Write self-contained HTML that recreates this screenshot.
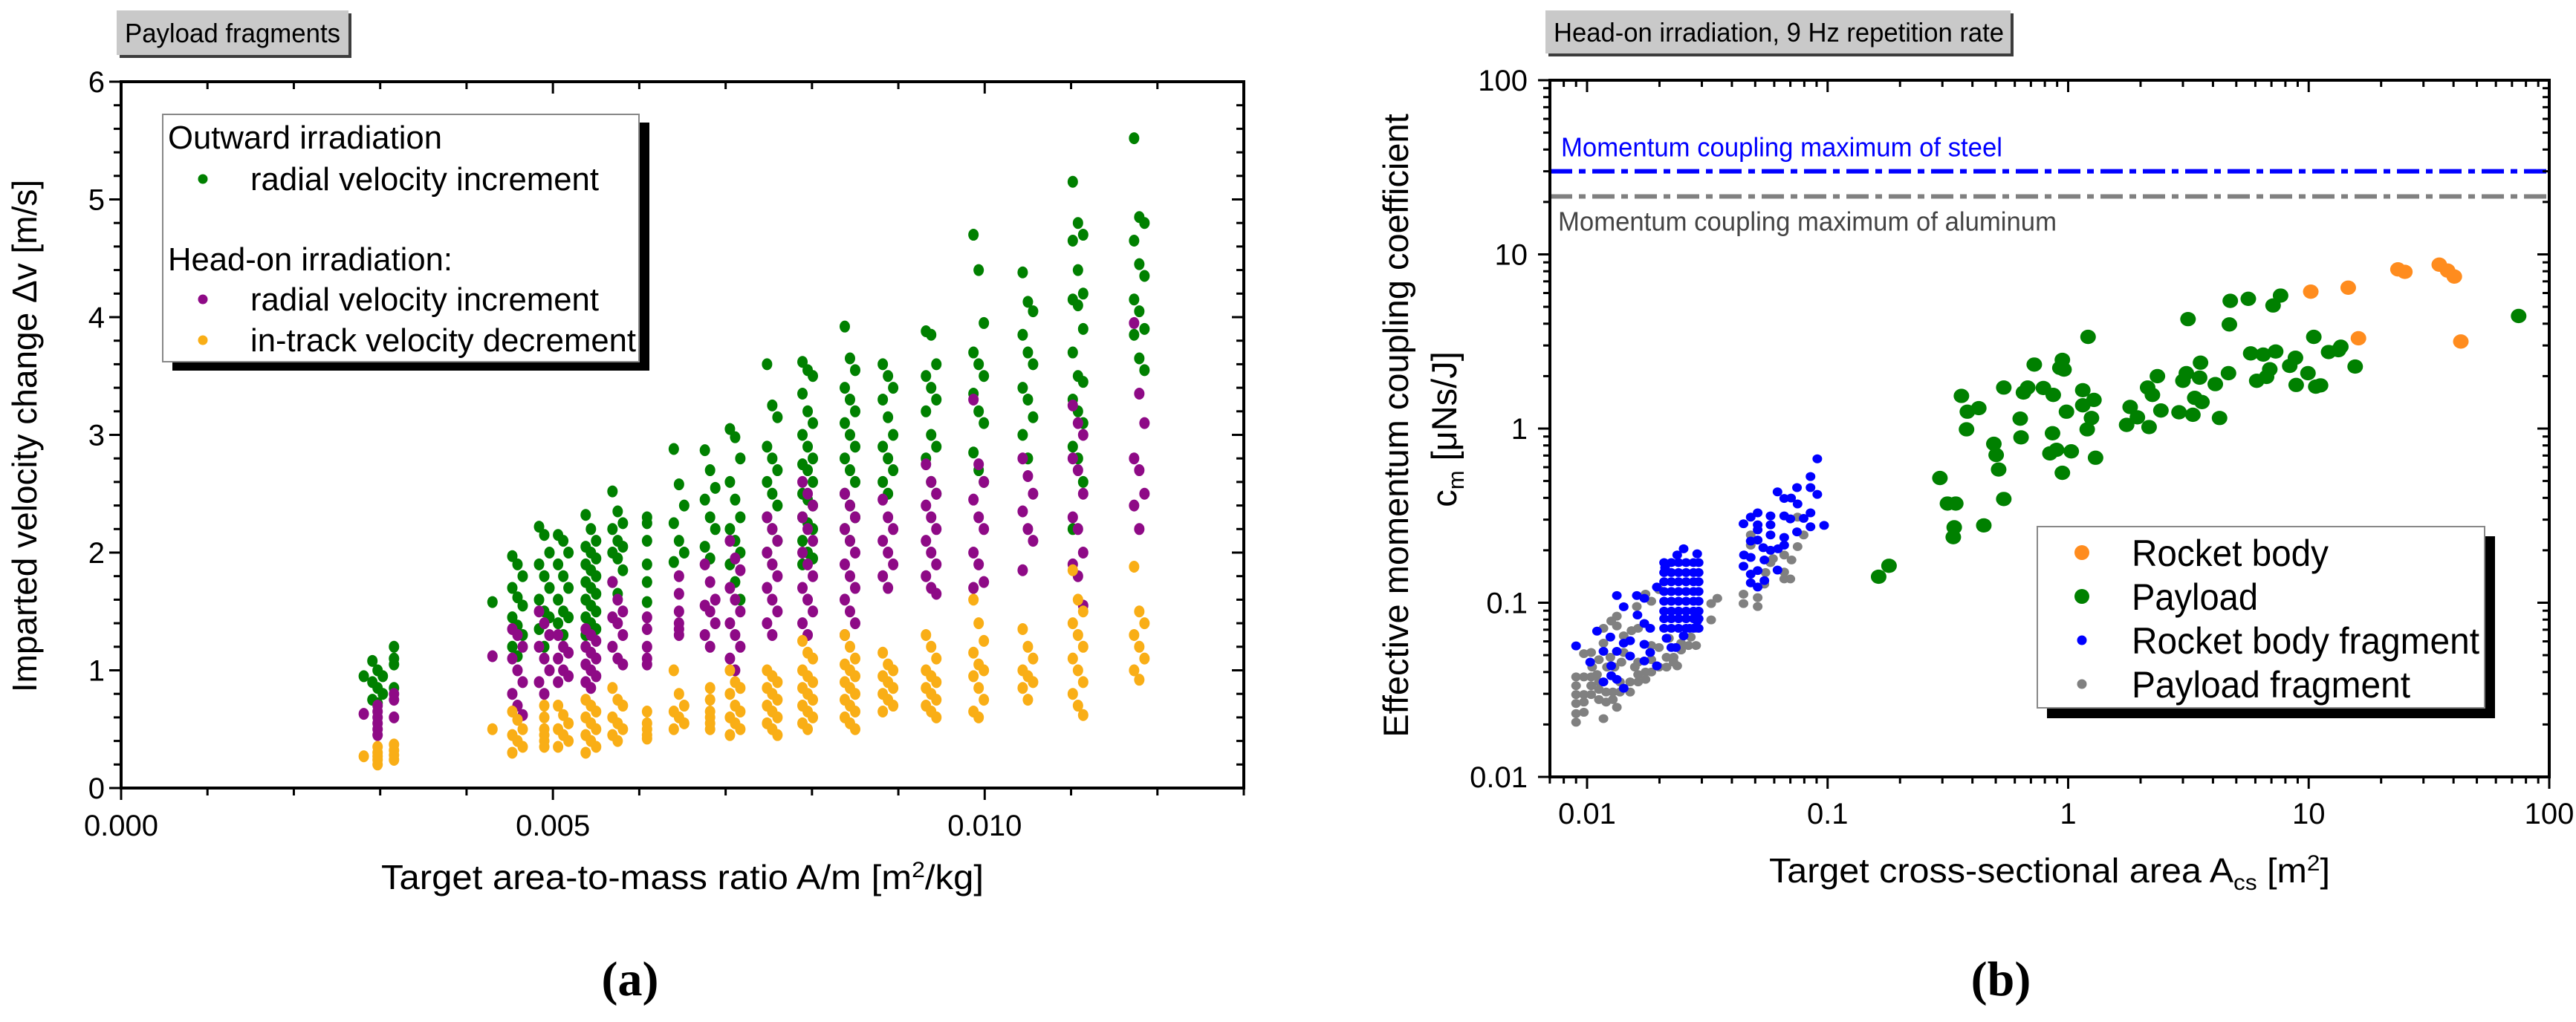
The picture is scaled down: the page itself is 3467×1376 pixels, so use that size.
<!DOCTYPE html>
<html><head><meta charset="utf-8"><style>
html,body{margin:0;padding:0;background:#fff;}
svg{display:block;font-family:"Liberation Sans",Arial,sans-serif;}
</style></head><body>
<svg id="fig" width="3467" height="1376" viewBox="0 0 3467 1376" xmlns="http://www.w3.org/2000/svg">
<rect x="0" y="0" width="3467" height="1376" fill="#fff"/>
<g id="chartA"></g>
<g id="chartB"></g>
</svg>
<script>
// ---------- Chart (a) data ----------
const amCols = [0.00281,0.00297,0.00316,0.00430,0.00459,0.00490,0.00512,0.00544,0.00575,0.00609,0.00646,0.00682,0.00711,0.00754,0.00795,0.00844,0.00888,0.00938,0.00993,0.01050,0.01108,0.01179];
const dvOutRadial = [
[0.95],[1.08,1.0,0.95,0.9,0.85,0.8,0.75,0.72],[1.2,1.1,1.05,0.85],[1.58],
[1.97,1.9,1.8,1.7,1.62,1.55,1.45,1.38,1.3,1.2,1.12],
[2.22,2.15,2.0,1.9,1.8,1.7,1.6,1.5,1.45,1.35,1.2],
[2.15,2.1,2.0,1.9,1.8,1.7,1.6,1.5,1.45,1.4,1.3],
[2.32,2.2,2.1,2.05,2.0,1.95,1.9,1.85,1.8,1.75,1.7,1.65,1.6,1.55,1.5,1.45,1.4,1.35,1.3],
[2.52,2.35,2.25,2.2,2.1,2.05,2.0,1.95,1.85,1.75,1.65],
[2.3,2.25,2.1,1.9,1.75,1.58],
[2.88,2.58,2.4,2.25,2.1,2.0,1.92],
[2.87,2.7,2.55,2.45,2.3,2.2,2.05,1.95],
[3.05,2.98,2.8,2.6,2.45,2.3,2.2,2.1,2.0,1.9,1.75,1.6],
[3.6,3.25,3.15,2.9,2.8,2.7,2.6,2.5,2.4,2.3,2.2,2.1,2.0,1.9],
[3.62,3.55,3.5,3.35,3.2,3.1,3.0,2.9,2.8,2.75,2.7,2.6,2.5,2.45,2.4,2.3,2.25,2.2,2.1,2.0,1.95,1.9],
[3.92,3.65,3.55,3.4,3.3,3.2,3.1,3.0,2.9,2.8,2.7,2.6,2.5,2.4,2.3,2.2,2.1],
[3.6,3.5,3.4,3.3,3.15,3.0,2.9,2.8,2.7,2.6,2.5],
[3.88,3.85,3.6,3.5,3.4,3.3,3.2,3.0,2.9,2.8,2.6,2.5],
[4.7,4.4,3.95,3.7,3.6,3.5,3.35,3.2,3.1,2.85,2.7,2.6],
[4.38,4.13,4.05,3.85,3.7,3.6,3.4,3.3,3.15,3.0,2.8],
[5.15,4.8,4.7,4.65,4.4,4.2,4.15,4.1,3.9,3.7,3.5,3.45,3.3,3.2,3.1,2.9,2.8,2.6,2.2],
[5.52,4.85,4.8,4.65,4.45,4.35,4.15,4.05,3.9,3.85,3.65,3.55]
];
const dvHeadRadial = [
[0.63],[0.7,0.65,0.6,0.55,0.5,0.45],[0.8,0.75,0.6],[1.12],
[1.35,1.3,1.2,1.1,1.0,0.9,0.8,0.7,0.62],
[1.5,1.4,1.3,1.2,1.1,1.0,0.9,0.8],
[1.3,1.2,1.15,1.1,1.0,0.95,0.9],
[1.35,1.3,1.25,1.2,1.15,1.1,1.05,1.0,0.95,0.9,0.85],
[1.75,1.6,1.5,1.45,1.4,1.3,1.2,1.1,1.05],
[1.45,1.35,1.2,1.1,1.05],
[1.8,1.65,1.5,1.4,1.35,1.3],
[1.9,1.75,1.6,1.55,1.5,1.4,1.3,1.2],
[2.1,1.95,1.85,1.7,1.6,1.5,1.4,1.3,1.2,1.1,1.0],
[2.3,2.2,2.1,2.0,1.9,1.8,1.7,1.6,1.5,1.4,1.3],
[2.6,2.5,2.4,2.3,2.2,2.1,2.0,1.9,1.8,1.7,1.6,1.5,1.4,1.3],
[2.5,2.4,2.3,2.2,2.1,2.0,1.9,1.8,1.7,1.6,1.5,1.4,1.3],
[2.45,2.3,2.2,2.1,2.0,1.9,1.8,1.7],
[2.75,2.6,2.5,2.4,2.3,2.2,2.1,2.0,1.9,1.8,1.7,1.65],
[3.3,2.75,2.6,2.45,2.3,2.2,2.0,1.9,1.75,1.7],
[2.8,2.65,2.5,2.35,2.2,2.1,1.85],
[3.25,3.1,3.0,2.8,2.7,2.5,2.3,2.2,2.0,1.9,1.8,1.55],
[3.95,3.35,3.1,2.8,2.7,2.5,2.4,2.2]
];
const dvHeadInTrack = [
[0.27],[0.35,0.3,0.27,0.24,0.2],[0.37,0.32,0.28,0.24],[0.5],
[0.65,0.58,0.5,0.45,0.4,0.35,0.3],
[0.7,0.6,0.5,0.45,0.4,0.35],
[0.7,0.62,0.55,0.5,0.45,0.4,0.35],
[0.75,0.7,0.65,0.6,0.55,0.5,0.45,0.4,0.35,0.3],
[0.85,0.75,0.7,0.6,0.55,0.5,0.45,0.4],
[0.65,0.55,0.5,0.45,0.42],
[1.0,0.8,0.7,0.65,0.6,0.55,0.5],
[0.85,0.75,0.65,0.6,0.55,0.5],
[1.0,0.9,0.85,0.8,0.7,0.65,0.6,0.55,0.5,0.45],
[1.0,0.95,0.9,0.85,0.8,0.75,0.7,0.65,0.6,0.55,0.5,0.45],
[1.25,1.15,1.1,1.0,0.95,0.9,0.85,0.8,0.75,0.7,0.65,0.6,0.55,0.5],
[1.3,1.2,1.1,1.05,1.0,0.95,0.9,0.85,0.8,0.75,0.7,0.65,0.6,0.55,0.5],
[1.15,1.05,1.0,0.95,0.9,0.85,0.8,0.75,0.7,0.65],
[1.3,1.2,1.1,1.0,0.95,0.9,0.85,0.8,0.75,0.7,0.65,0.6],
[1.6,1.4,1.25,1.15,1.05,1.0,0.95,0.85,0.75,0.65,0.6],
[1.35,1.2,1.1,1.0,0.95,0.9,0.85,0.75],
[1.85,1.6,1.5,1.4,1.3,1.2,1.1,1.0,0.9,0.8,0.7,0.62],
[1.88,1.5,1.4,1.3,1.2,1.1,1.0,0.92]
];
const aYTicks = [0,1,2,3,4,5,6];
const aXTicks = [0.000,0.005,0.010];
const aXTickLabels = ["0.000","0.005","0.010"];

// ---------- Chart (b) data ----------
const rbArea = [10.2,14.6,16.1,23.5,25.1,34.9,37.8,40.3,42.9];
const rbCm   = [6.11,6.44,3.3,8.2,7.94,8.73,8.07,7.46,3.16];
const plArea = [0.163,0.18,0.293,0.315,0.341,0.336,0.333,0.36,0.381,0.425,0.378,0.446,0.491,0.502,0.514,0.54,0.54,0.632,0.637,0.652,0.679,0.723,0.789,0.867,0.861,0.84,0.895,0.924,0.946,0.961,0.946,0.984,1.03,1.15,1.15,1.21,1.2,1.25,1.28,1.3,1.75,1.81,1.94,2.14,2.24,2.17,2.35,2.43,2.89,3.0,3.1,3.15,3.3,3.36,3.55,3.6,3.52,4.09,4.26,4.64,4.68,4.72,5.61,5.74,6.08,6.47,6.68,6.89,7.11,7.29,7.64,8.34,8.81,8.87,9.93,10.5,10.7,11.2,12.1,13.3,13.6,15.6,74.6];
const plCm   = [0.141,0.163,0.52,0.371,0.371,0.271,0.238,1.54,1.25,1.31,0.99,0.278,0.817,0.705,0.582,0.394,1.72,1.14,0.89,1.61,1.72,2.33,1.71,1.56,0.94,0.72,0.755,2.23,2.48,2.18,0.557,1.25,0.74,1.66,1.36,3.36,0.99,1.15,1.46,0.68,1.05,1.33,1.16,1.72,1.56,1.02,2.0,1.27,1.24,1.88,2.08,4.25,1.2,1.5,2.39,1.42,1.96,1.8,1.15,2.08,3.96,5.41,5.56,2.7,1.88,2.66,1.98,2.19,5.09,2.77,5.8,2.29,2.55,1.78,2.08,3.36,1.74,1.77,2.75,2.82,2.95,2.27,4.43];
const rbfArea = [0.0090,0.0103,0.0110,0.0117,0.0125,0.0126,0.0117,0.0126,0.0133,0.0142,0.0133,0.0142,0.0151,0.0151,0.0173,0.0173,0.0183,0.0195,0.0162,0.0161,0.0173,0.0133,0.0142,0.0173,0.0183,0.0195,0.0252,0.0267,0.0287,0.0287,0.0252,0.0237,0.0211,0.0234,0.0214,0.0224,
0.0209,0.0209,0.0209,0.0209,0.0209,0.0209,0.0209,0.0209,
0.0224,0.0224,0.0224,0.0224,0.0224,0.0224,0.0224,0.0224,
0.0240,0.0240,0.0240,0.0240,0.0240,0.0240,0.0240,0.0240,
0.0258,0.0258,0.0258,0.0258,0.0258,0.0258,0.0258,0.0258,
0.0277,0.0277,0.0277,0.0277,0.0277,0.0277,0.0277,0.0277,
0.0291,0.0291,0.0291,0.0291,0.0291,0.0291,0.0291,0.0291,
0.0906,0.0849,0.0746,0.0849,0.0906,0.0619,0.0660,0.0705,0.0750,0.0849,0.0795,0.0967,0.0849,0.0746,0.0447,0.0479,0.0512,0.0579,0.0660,0.0700,0.0579,0.0512,0.0579,0.0512,0.0479,0.0660,0.0660,0.0622,0.0579,0.0540,0.0449,0.0479,0.0546,0.0447,0.0479,0.0512,0.0546,0.0479,0.0512,0.0619,0.0512];
const rbfCm = [0.0565,0.0456,0.0687,0.0526,0.0635,0.0434,0.0351,0.0381,0.0363,0.0323,0.0526,0.0586,0.0605,0.0494,0.0577,0.0463,0.0518,0.0434,0.0850,0.110,0.106,0.110,0.0948,0.0760,0.0713,0.123,0.0645,0.0713,0.0785,0.191,0.204,0.188,0.159,0.0553,0.0625,0.0553,
0.170,0.149,0.132,0.116,0.102,0.0894,0.0810,0.0713,
0.170,0.149,0.132,0.116,0.102,0.0894,0.0810,0.0713,
0.170,0.149,0.132,0.116,0.102,0.0894,0.0810,0.0713,
0.170,0.149,0.132,0.116,0.102,0.0894,0.0810,0.0713,
0.170,0.149,0.132,0.116,0.102,0.0894,0.0810,0.0713,
0.170,0.149,0.132,0.116,0.102,0.0894,0.0810,0.0713,
0.670,0.530,0.458,0.458,0.419,0.433,0.397,0.399,0.369,0.328,0.305,0.278,0.273,0.255,0.284,0.310,0.328,0.315,0.315,0.303,0.280,0.262,0.245,0.229,0.226,0.237,0.214,0.204,0.200,0.207,0.188,0.182,0.176,0.162,0.146,0.153,0.134,0.130,0.123,0.154,0.280];
const pfArea = [0.0090,0.0090,0.0097,0.0090,0.0090,0.0090,0.0090,0.0097,0.0097,0.0097,0.0104,0.0104,0.0104,0.0112,0.0112,0.0112,0.0117,0.0120,0.0120,0.0128,0.0128,0.0133,0.0137,0.0151,0.0151,0.0163,0.0163,0.0175,0.0175,0.0185,0.0199,0.0214,0.0229,0.0237,0.0097,0.0104,0.0112,0.0117,0.0126,0.0133,0.0133,0.0117,0.0142,0.0153,0.0163,0.0163,0.0185,0.0185,0.0199,0.0214,0.0229,0.0246,0.0264,0.0284,0.0284,0.0328,0.0328,0.0348,0.0161,0.0175,0.0185,0.0199,0.0219,0.0246,0.0270,0.0130,0.0139,0.0121,0.0110,0.0142,0.0125,0.0105,0.0137,0.0158,
0.0447,0.0447,0.0512,0.0512,0.0479,0.0479,0.0552,0.0593,0.0660,0.0708,0.0660,0.0700,0.0750,0.0795,0.0750,0.0546,0.0660,0.0579];
const pfCm = [0.0206,0.0231,0.0235,0.0264,0.0297,0.0334,0.0375,0.0375,0.0297,0.0269,0.0334,0.0375,0.0297,0.0278,0.0318,0.0351,0.0216,0.0307,0.0269,0.0278,0.0307,0.0251,0.0351,0.0307,0.0351,0.0351,0.0387,0.0363,0.0400,0.0400,0.0427,0.0427,0.0456,0.0434,0.0510,0.0518,0.0471,0.0586,0.0785,0.0837,0.0736,0.0713,0.0645,0.0691,0.0713,0.0456,0.0568,0.0471,0.0553,0.0486,0.0486,0.0535,0.0568,0.0568,0.0713,0.0797,0.0989,0.106,0.0951,0.112,0.102,0.119,0.0625,0.0586,0.0635,0.0427,0.0456,0.0427,0.0387,0.0518,0.0486,0.0427,0.0307,0.0427,
0.112,0.0989,0.107,0.0951,0.245,0.214,0.149,0.179,0.188,0.176,0.150,0.137,0.210,0.245,0.310,0.128,0.137,0.170];
const steelMax = 30;
const aluMax = 21.5;
const bYTicks = [0.01,0.1,1,10,100];
const bYTickLabels = ["0.01","0.1","1","10","100"];
const bXTicks = [0.01,0.1,1,10,100];
const bXTickLabels = ["0.01","0.1","1","10","100"];

// ---------- helpers ----------
const NS = "http://www.w3.org/2000/svg";
function mk(tag, attrs, parent){
  const e = document.createElementNS(NS, tag);
  for (const k in attrs) e.setAttribute(k, attrs[k]);
  parent.appendChild(e);
  return e;
}
const gA = document.getElementById('chartA');
const gB = document.getElementById('chartB');

// ===== Chart (a) =====
const aX0=163, aX1=1674, aY0=1061, aY1=110;
const ax = v => aX0 + (v-0)/(0.013-0)*(aX1-aX0);
const ay = v => aY0 - v/6*(aY0-aY1);

function labelBox(g, x, y, w, h, txt, tl, name){
  const b = mk('g', {}, g);
  
  
  mk('rect', {x:x+4, y:y+4, width:w, height:h, fill:'#3c3c3c'}, b);
  mk('rect', {x:x, y:y, width:w, height:h, fill:'#c9c9c9'}, b);
  const t = mk('text', {x:x+11, y:y+h/2+13, 'font-size':36, fill:'#000', textLength:tl, lengthAdjust:'spacingAndGlyphs'}, b);
  t.textContent = txt;
}
labelBox(gA, 157, 14, 312, 60, 'Payload fragments', 290, 'panel-label-a');

// data points
const aPts = mk('g', {}, gA);


function drawCols(series, color, name){
  const g = mk('g', {fill:color}, aPts);
  
  
  series.forEach((col, ci) => {
    col.forEach((v, i) => {
      const off = (col.length > 6) ? ((i % 3) - 1) * 7 : 0;
      const c = mk('ellipse', {cx: ax(amCols[ci]) + off, cy: ay(v), rx: 7, ry: 8}, g);
      
      
    });
  });
}
drawCols(dvOutRadial, '#008000', 'series-outward-radial');
drawCols(dvHeadRadial, '#8e0a86', 'series-headon-radial');
drawCols(dvHeadInTrack, '#f9ae16', 'series-headon-intrack');

// axes frame
const aAx = mk('g', {stroke:'#000', 'stroke-width':4, fill:'none'}, gA);


mk('rect', {x:aX0, y:aY1, width:aX1-aX0, height:aY0-aY1}, aAx);
for (let v=0; v<=0.0131; v+=0.001){
  const x = ax(v); const major = Math.abs(v/0.005 - Math.round(v/0.005)) < 1e-6;
  const L = major?16:10;
  mk('line', {x1:x, y1:aY0, x2:x, y2:aY0+L, 'stroke-width':3}, aAx);
  mk('line', {x1:x, y1:aY1, x2:x, y2:aY1+L, 'stroke-width':3}, aAx);
}
for (let i=0; i<=30; i++){
  const v = i*0.2; const y = ay(v); const major = i%5===0;
  const L = major?16:10;
  mk('line', {x1:aX0, y1:y, x2:aX0-L, y2:y, 'stroke-width':3}, aAx);
  mk('line', {x1:aX1, y1:y, x2:aX1-L, y2:y, 'stroke-width':3}, aAx);
}
aYTicks.forEach(v => {
  const t = mk('text', {x:aX0-22, y:ay(v)+14, 'font-size':40, 'text-anchor':'end'}, gA);
  t.textContent = String(v);
  
  
});
aXTicks.forEach((v,i) => {
  const t = mk('text', {x:ax(v), y:1125, 'font-size':40, 'text-anchor':'middle'}, gA);
  t.textContent = aXTickLabels[i];
  
  
});
{
  const t = mk('text', {x:513, y:1197, 'font-size':46, textLength:811, lengthAdjust:'spacingAndGlyphs'}, gA);
  
  
  t.innerHTML = 'Target area-to-mass ratio A/m [m<tspan dy="-16" font-size="30">2</tspan><tspan dy="16">/kg]</tspan>';
  const y = mk('text', {x:0, y:0, 'font-size':46, 'text-anchor':'middle', transform:'translate(49,587) rotate(-90)'}, gA);
  
  
  y.textContent = 'Imparted velocity change \u0394v [m/s]';
  const p = mk('text', {x:848, y:1340, 'font-size':66, 'text-anchor':'middle', 'font-family':'Liberation Serif, serif', 'font-weight':'bold'}, gA);
  
  
  p.textContent = '(a)';
}
// legend a
{
  const L = mk('g', {}, gA);
  
  
  mk('rect', {x:232, y:165, width:642, height:334, fill:'#000'}, L);
  mk('rect', {x:219, y:154, width:641, height:333, fill:'#fff', stroke:'#888', 'stroke-width':2}, L);
  const rows = [
    [200,'Outward irradiation',null,false,369],
    [256,'radial velocity increment','#008000',true,469],
    [364,'Head-on irradiation:',null,false,383],
    [418,'radial velocity increment','#8e0a86',true,469],
    [473,'in-track velocity decrement','#f9ae16',true,519]];
  rows.forEach(r => {
    const t = mk('text', {x: r[3]?337:226, y:r[0], 'font-size':44, textLength:r[4], lengthAdjust:'spacingAndGlyphs'}, L);
    t.textContent = r[1];
    
    
    if (r[2]) mk('circle', {cx:273, cy:r[0]-15, r:6.5, fill:r[2]}, L);
  });
}

// ===== Chart (b) =====
const bX0=2086, bX1=3431, bY0=1046, bY1=108;
const bLx0 = -2 - 50/323.7, bLx1 = 2;
const bx = v => bX0 + (Math.log10(v)-bLx0)/(bLx1-bLx0)*(bX1-bX0);
const by = v => bY0 - (Math.log10(v)+2)/4*(bY0-bY1);

labelBox(gB, 2080, 14, 626, 58, 'Head-on irradiation, 9 Hz repetition rate', 606, 'panel-label-b');

// reference lines
{
  const s = mk('line', {x1:bX0, x2:bX1, y1:by(steelMax), y2:by(steelMax), stroke:'#0000ff', 'stroke-width':6, 'stroke-dasharray':'30 9 9 9'}, gB);
  
  
  const a = mk('line', {x1:bX0, x2:bX1, y1:by(aluMax), y2:by(aluMax), stroke:'#808080', 'stroke-width':6, 'stroke-dasharray':'30 9 9 9'}, gB);
  
  
  const st = mk('text', {x:2101, y:by(steelMax)-20, 'font-size':36, fill:'#0000ff', textLength:594, lengthAdjust:'spacingAndGlyphs'}, gB);
  st.textContent = 'Momentum coupling maximum of steel';
  
  
  const at = mk('text', {x:2097, y:by(aluMax)+46, 'font-size':36, fill:'#444', textLength:671, lengthAdjust:'spacingAndGlyphs'}, gB);
  at.textContent = 'Momentum coupling maximum of aluminum';
  
  
}

const bPts = mk('g', {}, gB);


function drawXY(xs, ys, color, r, name){
  const g = mk('g', {fill:color}, bPts);
  
  
  xs.forEach((x,i) => {
    const c = mk('ellipse', {cx:bx(x), cy:by(ys[i]), rx:r, ry:r*0.92}, g);
    
    
  });
}
drawXY(pfArea, pfCm, '#808080', 6.5, 'series-payload-fragment');
drawXY(rbfArea, rbfCm, '#0000ff', 6.5, 'series-rocket-body-fragment');
drawXY(plArea, plCm, '#008000', 10.5, 'series-payload');
drawXY(rbArea, rbCm, '#ff8c1e', 10.5, 'series-rocket-body');

// axes b
const bAx = mk('g', {stroke:'#000', fill:'none'}, gB);


mk('rect', {x:bX0, y:bY1, width:bX1-bX0, height:bY0-bY1, 'stroke-width':4}, bAx);
for (let d=-3; d<=1; d++){
  for (let m=1; m<=9; m++){
    const v = m*Math.pow(10,d);
    const major = m===1;
    const L = major?16:9;
    const x = bx(v);
    if (x >= bX0-1 && x <= bX1+1){
      mk('line', {x1:x, y1:bY0, x2:x, y2:bY0+L, 'stroke-width':3}, bAx);
      mk('line', {x1:x, y1:bY1, x2:x, y2:bY1+L, 'stroke-width':3}, bAx);
    }
    if (d>=-2){
      const y = by(v);
      if (y >= bY1-1 && y <= bY0+1){
        mk('line', {x1:bX0, y1:y, x2:bX0-L, y2:y, 'stroke-width':3}, bAx);
        mk('line', {x1:bX1, y1:y, x2:bX1-L, y2:y, 'stroke-width':3}, bAx);
      }
    }
  }
}
mk('line', {x1:bX1, y1:bY0, x2:bX1, y2:bY0+16, 'stroke-width':3}, bAx);
mk('line', {x1:bX0, y1:bY1, x2:bX0-16, y2:bY1, 'stroke-width':3}, bAx);
bYTicks.forEach((v,i) => {
  const t = mk('text', {x:bX0-30, y:by(v)+14, 'font-size':40, 'text-anchor':'end'}, gB);
  t.textContent = bYTickLabels[i];
  
  
});
bXTicks.forEach((v,i) => {
  const t = mk('text', {x:bx(v), y:1109, 'font-size':40, 'text-anchor':'middle'}, gB);
  t.textContent = bXTickLabels[i];
  
  
});
{
  const t = mk('text', {x:2381, y:1188, 'font-size':46, textLength:755, lengthAdjust:'spacingAndGlyphs'}, gB);
  
  
  t.innerHTML = 'Target cross-sectional area A<tspan dy="10" font-size="30">cs</tspan><tspan dy="-10"> [m</tspan><tspan dy="-16" font-size="30">2</tspan><tspan dy="16">]</tspan>';
  const y1 = mk('text', {x:0, y:0, 'font-size':47, 'text-anchor':'middle', transform:'translate(1895,573) rotate(-90)'}, gB);
  
  
  y1.textContent = 'Effective momentum coupling coefficient';
  const y2 = mk('text', {x:0, y:0, 'font-size':47, 'text-anchor':'middle', transform:'translate(1960,578) rotate(-90)'}, gB);
  
  
  y2.innerHTML = 'c<tspan dy="10" font-size="31">m</tspan><tspan dy="-10"> [\u03bcNs/J]</tspan>';
  const p = mk('text', {x:2693, y:1340, 'font-size':66, 'text-anchor':'middle', 'font-family':'Liberation Serif, serif', 'font-weight':'bold'}, gB);
  
  
  p.textContent = '(b)';
}
// legend b
{
  const L = mk('g', {}, gB);
  
  
  mk('rect', {x:2755, y:722, width:603, height:245, fill:'#000'}, L);
  mk('rect', {x:2742, y:709, width:602, height:244, fill:'#fff', stroke:'#888', 'stroke-width':2}, L);
  const rows = [[744,'Rocket body','#ff8c1e',10,265],[803,'Payload','#008000',10,170],[862,'Rocket body fragment','#0000ff',6.5,468],[921,'Payload fragment','#808080',6.5,375]];
  rows.forEach(r => {
    mk('circle', {cx:2802, cy:r[0], r:r[3], fill:r[2]}, L);
    const t = mk('text', {x:2869, y:r[0]+18, 'font-size':50, textLength:r[4], lengthAdjust:'spacingAndGlyphs'}, L);
    t.textContent = r[1];
    
    
  });
}
</script>
</body></html>
